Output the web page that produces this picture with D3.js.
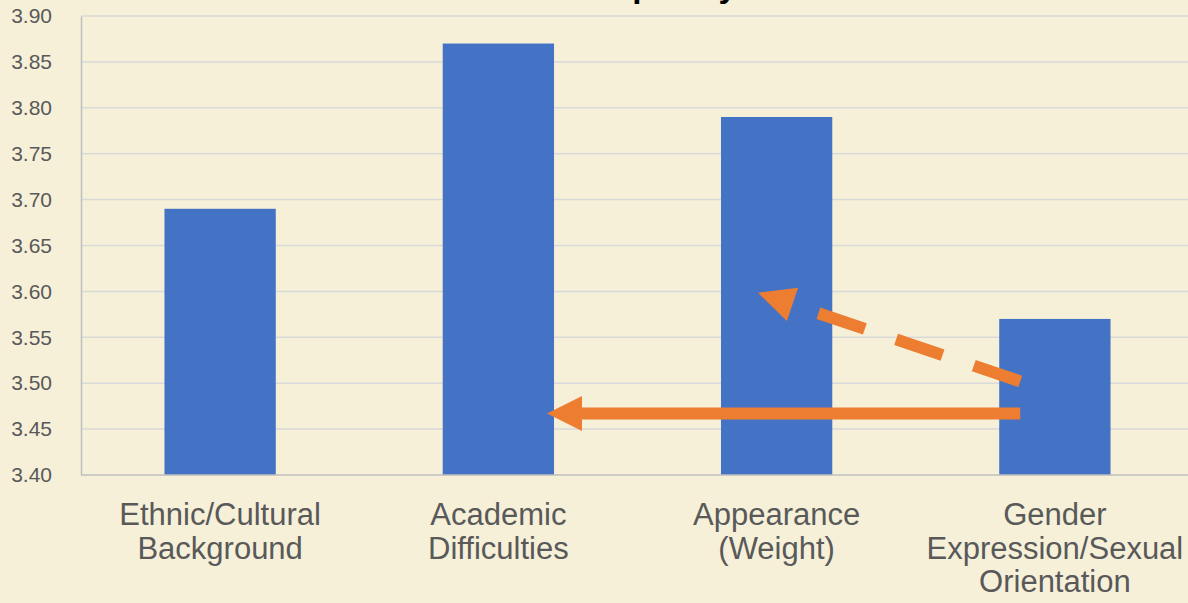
<!DOCTYPE html>
<html>
<head>
<meta charset="utf-8">
<script src="https://cdn.jsdelivr.net/npm/d3@7"></script>
<style>
  body { margin: 0; background: #f6f0d9; }
  svg { display: block; font-family: Arial, "Liberation Sans", sans-serif; }
</style>
</head>
<body>
<div id="chart"></div>
<script>
// data
var categories = [
    ["Ethnic/Cultural", "Background"],
    ["Academic", "Difficulties"],
    ["Appearance", "(Weight)"],
    ["Gender", "Expression/Sexual", "Orientation"]
]
var values = [3.69, 3.87, 3.79, 3.57]
var yTicks = [3.40, 3.45, 3.50, 3.55, 3.60, 3.65, 3.70, 3.75, 3.80, 3.85, 3.90]
var titleText = "Frequency"

var width = 1188, height = 603
var margin = { top: 16, right: -6, bottom: 128, left: 81 }

var svg = d3.select("#chart")
    .append("svg")
    .attr("width", width)
    .attr("height", height)

svg.append("rect")
    .attr("width", width)
    .attr("height", height)
    .attr("fill", "#f6f0d9")

// title (mostly cut off at the top edge, as in the source)
svg.append("text")
    .attr("x", 570)
    .attr("y", -3.5)
    .attr("font-size", 33)
    .attr("font-weight", "bold")
    .attr("fill", "#000")
    .text(titleText)

var ids = categories.map(function (d, i) { return i })

var x = d3.scaleBand()
    .domain(ids)
    .range([margin.left, width - margin.right])
    .paddingInner(0.6)
    .paddingOuter(0.3)

var y = d3.scaleLinear()
    .domain([3.40, 3.90])
    .range([height - margin.bottom, margin.top])

// gridlines
svg.append("g")
    .selectAll("line")
    .data(yTicks.slice(1))
    .enter().append("line")
    .attr("x1", margin.left)
    .attr("x2", width)
    .attr("y1", function (d) { return y(d) })
    .attr("y2", function (d) { return y(d) })
    .attr("stroke", "#d9d9d9")
    .attr("stroke-width", 1.5)

// y axis
var yAxis = svg.append("g")
    .attr("transform", "translate(" + margin.left + ",0)")
    .call(d3.axisLeft(y).tickValues(yTicks).tickFormat(d3.format(".2f")).tickSize(0).tickPadding(29))
yAxis.select(".domain").attr("stroke", "#bfbfbf").attr("stroke-width", 1.5)
yAxis.selectAll("text")
    .attr("font-size", 21)
    .attr("fill", "#595959")
    .attr("font-family", "Arial, 'Liberation Sans', sans-serif")

// bars
svg.append("g")
    .selectAll("rect")
    .data(values)
    .enter().append("rect")
    .attr("x", function (d, i) { return x(i) })
    .attr("y", function (d) { return y(d) })
    .attr("width", x.bandwidth())
    .attr("height", function (d) { return y(3.40) - y(d) })
    .attr("fill", "#4472c4")

// x axis line
svg.append("line")
    .attr("x1", margin.left)
    .attr("x2", width)
    .attr("y1", y(3.40))
    .attr("y2", y(3.40))
    .attr("stroke", "#bfbfbf")
    .attr("stroke-width", 1.5)

// category labels
var labels = svg.append("g")
    .selectAll("text")
    .data(categories)
    .enter().append("text")
    .attr("text-anchor", "middle")
    .attr("font-size", 31)
    .attr("fill", "#595959")
    .attr("transform", function (d, i) { return "translate(" + (x(i) + x.bandwidth() / 2) + ",525)" })
labels.selectAll("tspan")
    .data(function (d) { return d })
    .enter().append("tspan")
    .attr("x", 0)
    .attr("y", function (d, j) { return j * 33.5 })
    .text(function (d) { return d })

// arrows
var orange = "#ed7d31"
function arrow(x1, y1, x2, y2, headLen, headW, dash) {
    var dx = x2 - x1, dy = y2 - y1
    var len = Math.sqrt(dx * dx + dy * dy)
    var ux = dx / len, uy = dy / len
    var bx = x2 - ux * headLen, by = y2 - uy * headLen
    svg.append("line")
        .attr("x1", x1).attr("y1", y1)
        .attr("x2", bx).attr("y2", by)
        .attr("stroke", orange)
        .attr("stroke-width", 12)
        .attr("stroke-dasharray", dash || null)
    var nx = -uy * headW / 2, ny = ux * headW / 2
    svg.append("path")
        .attr("d", "M" + x2 + "," + y2 + "L" + (bx + nx) + "," + (by + ny) + "L" + (bx - nx) + "," + (by - ny) + "Z")
        .attr("fill", orange)
}

var bar4Left = x(3) + 21
arrow(bar4Left, y(3.467), x(1) + x.bandwidth() - 7, y(3.467), 35, 35)
arrow(bar4Left, y(3.502), 758, y(3.5985), 36.4, 35, "49,33")
</script>
</body>
</html>
